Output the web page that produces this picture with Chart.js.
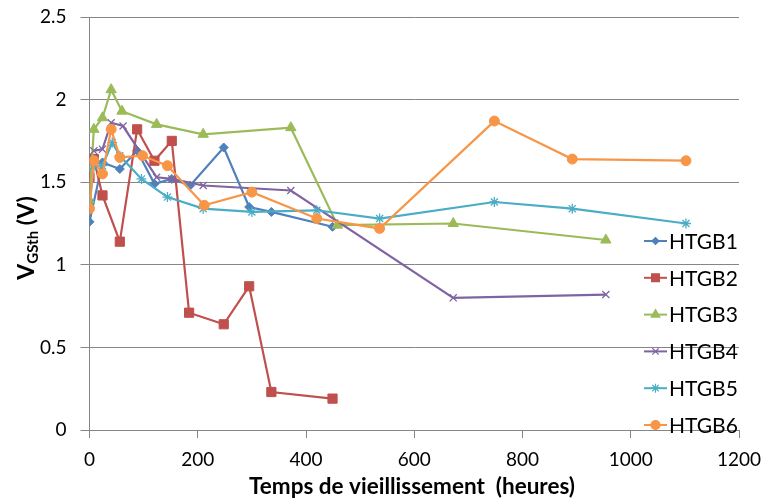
<!DOCTYPE html>
<html><head><meta charset="utf-8">
<script src="https://cdn.jsdelivr.net/npm/chart.js@4/dist/chart.umd.min.js"></script>
<style>html,body{margin:0;padding:0;background:#fff}</style>
</head><body>
<canvas id="c" width="764" height="499"></canvas>
<script>
const seriesNames = ["HTGB1", "HTGB2", "HTGB3", "HTGB4", "HTGB5", "HTGB6"];
const htgb1Hours = [0, 24, 56, 88, 120, 152, 186, 248, 295, 336, 449];
const htgb1V     = [1.26, 1.62, 1.58, 1.69, 1.49, 1.52, 1.48, 1.71, 1.35, 1.32, 1.23];
const htgb2Hours = [0, 8, 24, 56, 88, 120, 152, 184, 248, 295, 336, 449];
const htgb2V     = [1.53, 1.64, 1.42, 1.14, 1.82, 1.63, 1.75, 0.71, 0.64, 0.87, 0.23, 0.19];
const htgb3Hours = [0, 8, 24, 40, 60, 124, 210, 372, 458, 672, 954];
const htgb3V     = [1.39, 1.82, 1.89, 2.06, 1.93, 1.85, 1.79, 1.83, 1.24, 1.25, 1.15];
const htgb4Hours = [8, 24, 40, 62, 124, 152, 210, 372, 672, 954];
const htgb4V     = [1.69, 1.70, 1.86, 1.84, 1.53, 1.52, 1.48, 1.45, 0.80, 0.82];
const htgb5Hours = [0, 8, 24, 42, 56, 96, 144, 210, 300, 420, 536, 748, 892, 1102];
const htgb5V     = [1.37, 1.60, 1.60, 1.74, 1.66, 1.52, 1.41, 1.34, 1.32, 1.33, 1.28, 1.38, 1.34, 1.25];
const htgb6Hours = [0, 8, 24, 40, 56, 98, 144, 212, 300, 420, 536, 748, 892, 1102];
const htgb6V     = [1.34, 1.63, 1.55, 1.82, 1.65, 1.66, 1.60, 1.36, 1.44, 1.28, 1.22, 1.87, 1.64, 1.63];
const xTicks = [0, 200, 400, 600, 800, 1000, 1200];
const yTicks = [0, 0.5, 1, 1.5, 2, 2.5];

const hoursList = [htgb1Hours, htgb2Hours, htgb3Hours, htgb4Hours, htgb5Hours, htgb6Hours];
const vList = [htgb1V, htgb2V, htgb3V, htgb4V, htgb5V, htgb6V];
const colors = ["#4F81BD", "#C0504D", "#9BBB59", "#8064A2", "#4BACC6", "#F79646"];
const styles = ["rectRot", "rect", "triangle", "crossRot", "star", "circle"];
const radii = [4.5, 6.5, 6, 5, 5, 5];
const legendRadii = [3.5, 5.5, 5, 4.5, 4.5, 4.5];

const datasets = seriesNames.map((n, i) => ({
  label: n,
  data: hoursList[i].map((h, k) => ({x: h, y: vList[i][k]})),
  borderColor: colors[i],
  backgroundColor: colors[i],
  pointBorderColor: colors[i],
  pointBackgroundColor: colors[i],
  pointStyle: styles[i],
  pointRadius: radii[i],
  pointBorderWidth: (styles[i] === "crossRot" || styles[i] === "star") ? 1.3 : 1,
  borderWidth: 2.2,
  tension: 0,
  fill: false,
  order: 6 - i
}));

const FONT = "Lato, 'Open Sans', sans-serif";

const overlay = {
  id: 'overlay',
  afterDraw(chart) {
    const ctx = chart.ctx;
    ctx.save();
    // X title
    ctx.fillStyle = '#000';
    ctx.font = "bold 22.5px " + FONT;
    ctx.textAlign = 'center';
    ctx.textBaseline = 'middle';
    ctx.fillText("Temps de vieillissement  (heures)", 412, 487);
    // Y title with subscript
    ctx.save();
    ctx.translate(26, 238);
    ctx.rotate(-Math.PI / 2);
    const big = "bold 23px " + FONT, small = "bold 15px " + FONT;
    ctx.font = big; const wV = ctx.measureText("V").width;
    const wP = ctx.measureText(" (V)").width;
    ctx.font = small; const wS = ctx.measureText("GSth").width;
    const total = wV + wS + wP;
    let x0 = -total / 2;
    ctx.textAlign = 'left';
    ctx.textBaseline = 'alphabetic';
    ctx.font = big; ctx.fillText("V", x0, 8);
    ctx.font = small; ctx.fillText("GSth", x0 + wV, 12);
    ctx.font = big; ctx.fillText(" (V)", x0 + wV + wS, 8);
    ctx.restore();
    // Legend
    chart.data.datasets.forEach((ds, i) => {
      const y = 241 + i * 36.8;
      ctx.strokeStyle = ds.borderColor;
      ctx.lineWidth = 2;
      ctx.beginPath(); ctx.moveTo(644, y); ctx.lineTo(667, y); ctx.stroke();
      ctx.fillStyle = ds.backgroundColor;
      ctx.lineWidth = 1.2;
      Chart.helpers.drawPoint(ctx, {pointStyle: ds.pointStyle, rotation: 0, radius: legendRadii[i], borderWidth: 1}, 655.5, y);
      ctx.fillStyle = '#000';
      ctx.font = "21px " + FONT;
      ctx.textAlign = 'left';
      ctx.textBaseline = 'middle';
      ctx.fillText(ds.label, 669, y + 1);
    });
    ctx.restore();
  }
};

new Chart(document.getElementById('c'), {
  type: 'line',
  data: { datasets },
  options: {
    responsive: false,
    animation: false,
    devicePixelRatio: 1,
    layout: { padding: { top: 17, right: 25, left: 0, bottom: 0 } },
    plugins: { legend: { display: false }, tooltip: { enabled: false } },
    scales: {
      x: {
        type: 'linear', min: 0, max: 1200,
        afterBuildTicks: s => { s.ticks = xTicks.map(v => ({value: v})); },
        afterFit: s => { s.height = 69; s.paddingLeft = 0; s.paddingRight = 0; },
        grid: { drawOnChartArea: false, drawTicks: true, tickLength: 8, color: '#868686' },
        border: { color: '#868686', width: 1 },
        ticks: { font: { family: FONT, size: 19 }, color: '#000', padding: 10, maxRotation: 0,
                 callback: v => String(v) }
      },
      y: {
        type: 'linear', min: 0, max: 2.5,
        afterBuildTicks: s => { s.ticks = yTicks.map(v => ({value: v})); },
        afterFit: s => { s.width = 89.5; s.paddingTop = 0; s.paddingBottom = 0; },
        grid: { color: '#868686', tickLength: 9, drawTicks: true },
        border: { color: '#868686', width: 1 },
        ticks: { font: { family: FONT, size: 19 }, color: '#000', padding: 14,
                 callback: v => String(v) }
      }
    }
  },
  plugins: [overlay]
});
</script>
</body></html>
